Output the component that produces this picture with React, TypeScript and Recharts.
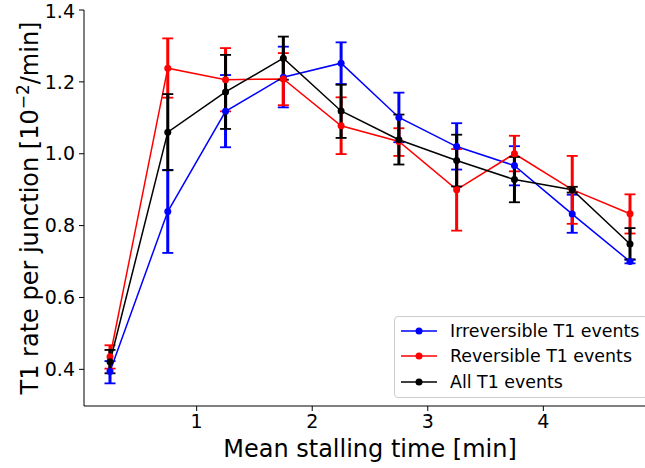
import React from 'react';
import { LineChart, Line, XAxis, YAxis, ErrorBar, Legend } from 'recharts';

// mean stalling time [min]
const stallTimes = [0.25, 0.75, 1.25, 1.75, 2.25, 2.75, 3.25, 3.75, 4.25, 4.75];

const irreversible = [0.394, 0.839, 1.118, 1.213, 1.252, 1.101, 1.02, 0.967, 0.832, 0.7];
const irreversibleLow = [0.361, 0.724, 1.018, 1.129, 1.194, 1.032, 0.956, 0.912, 0.78, 0.695];
const irreversibleHigh = [0.423, 0.955, 1.219, 1.298, 1.31, 1.17, 1.085, 1.021, 0.886, 0.705];

const reversible = [0.435, 1.238, 1.206, 1.208, 1.078, 1.034, 0.9, 1.0, 0.9, 0.833];
const reversibleLow = [0.402, 1.156, 1.118, 1.135, 0.999, 0.994, 0.786, 0.951, 0.805, 0.778];
const reversibleHigh = [0.467, 1.321, 1.294, 1.28, 1.157, 1.071, 1.013, 1.05, 0.994, 0.887];

const allEvents = [0.421, 1.06, 1.172, 1.266, 1.119, 1.039, 0.981, 0.928, 0.9, 0.749];
const allLow = [0.389, 0.954, 1.069, 1.206, 1.044, 0.97, 0.909, 0.865, 0.892, 0.706];
const allHigh = [0.454, 1.166, 1.275, 1.326, 1.192, 1.109, 1.053, 0.991, 0.908, 0.793];

const xTicks = [1, 2, 3, 4];
const yTicks = [0.4, 0.6, 0.8, 1.0, 1.2, 1.4];

const seriesNames = ['Irreversible T1 events', 'Reversible T1 events', 'All T1 events'];
const seriesColors = ['#0000ff', '#ff0000', '#000000'];

const err = (v: number, lo: number, hi: number) => [+(v - lo).toFixed(4), +(hi - v).toFixed(4)];

const data = stallTimes.map((t, i) => ({
  t,
  irr: irreversible[i],
  irrErr: err(irreversible[i], irreversibleLow[i], irreversibleHigh[i]),
  rev: reversible[i],
  revErr: err(reversible[i], reversibleLow[i], reversibleHigh[i]),
  all: allEvents[i],
  allErr: err(allEvents[i], allLow[i], allHigh[i]),
}));

const FONT = '"DejaVu Sans", sans-serif';
const keys = [
  { key: 'irr', errKey: 'irrErr' },
  { key: 'rev', errKey: 'revErr' },
  { key: 'all', errKey: 'allErr' },
];

const LegendBox = () => (
  <div
    style={{
      width: 252,
      height: 79,
      border: '1px solid #cccccc',
      borderRadius: 4,
      background: 'rgba(255,255,255,0.85)',
      fontFamily: FONT,
      fontSize: 17.4,
      paddingTop: 1,
      boxSizing: 'content-box',
    }}
  >
    {seriesNames.map((name, i) => (
      <div key={name} style={{ height: 25.5, display: 'flex', alignItems: 'center' }}>
        <svg width={49} height={12} style={{ marginLeft: 6 }}>
          <line x1={0} y1={6} x2={36} y2={6} stroke={seriesColors[i]} strokeWidth={1.5} />
          <circle cx={18} cy={6} r={3.5} fill={seriesColors[i]} />
        </svg>
        <span style={{ color: '#000', whiteSpace: 'nowrap' }}>{name}</span>
      </div>
    ))}
  </div>
);

export default function App() {
  return (
    <div style={{ position: 'fixed', left: 0, top: 0, width: 645, height: 468, overflow: 'hidden', background: '#fff' }}>
      <LineChart width={680} height={468} data={data} margin={{ top: 10, right: 24, left: 24, bottom: 22 }}>
        <XAxis
          dataKey="t"
          type="number"
          domain={[0.025, 4.975]}
          ticks={xTicks}
          allowDataOverflow
          stroke="#000"
          tickSize={5}
          tickMargin={4}
          height={40}
          tick={{ fill: '#000', fontSize: 19, fontFamily: FONT }}
          label={{
            content: ({ viewBox }: any) => (
              <text
                x={viewBox.x + viewBox.width / 2}
                y={457}
                textAnchor="middle"
                fontSize={24}
                fontFamily={FONT}
                fill="#000"
              >
                Mean stalling time [min]
              </text>
            ),
          }}
        />
        <XAxis xAxisId="top" dataKey="t" type="number" domain={[0.025, 4.975]} orientation="top" tick={false} tickLine={false} stroke="#000" height={0} />
        <YAxis
          type="number"
          domain={[0.298, 1.4]}
          ticks={yTicks}
          allowDataOverflow
          stroke="#000"
          tickSize={5}
          tickMargin={4}
          width={60}
          tickFormatter={(v: number) => v.toFixed(1)}
          tick={{ fill: '#000', fontSize: 19, fontFamily: FONT }}
          label={{
            content: () => (
              <text
                x={38}
                y={208}
                transform="rotate(-90 38 208)"
                textAnchor="middle"
                fontSize={24}
                fontFamily={FONT}
                fill="#000"
              >
                T1 rate per junction [10
                <tspan dy={-9} fontSize={17}>−2</tspan>
                <tspan dy={9}>/min]</tspan>
              </text>
            ),
          }}
        />
        {keys.map((k, i) => (
          <Line
            key={k.key}
            dataKey={k.key}
            name={seriesNames[i]}
            stroke={seriesColors[i]}
            strokeWidth={1.5}
            dot={{ r: 3.5, fill: seriesColors[i], stroke: seriesColors[i], strokeWidth: 0 }}
            activeDot={false}
            isAnimationActive={false}
          >
            <ErrorBar dataKey={k.errKey} direction="y" width={0} stroke={seriesColors[i]} strokeWidth={3} />
            <ErrorBar dataKey={k.errKey} direction="y" width={5.5} stroke={seriesColors[i]} strokeWidth={1.8} />
          </Line>
        ))}
        <Legend
          layout="horizontal"
          verticalAlign="middle"
          align="center"
          content={() => <LegendBox />}
          wrapperStyle={{ position: 'absolute', left: 394, top: 316, width: 254, height: 81 }}
        />
      </LineChart>
    </div>
  );
}
